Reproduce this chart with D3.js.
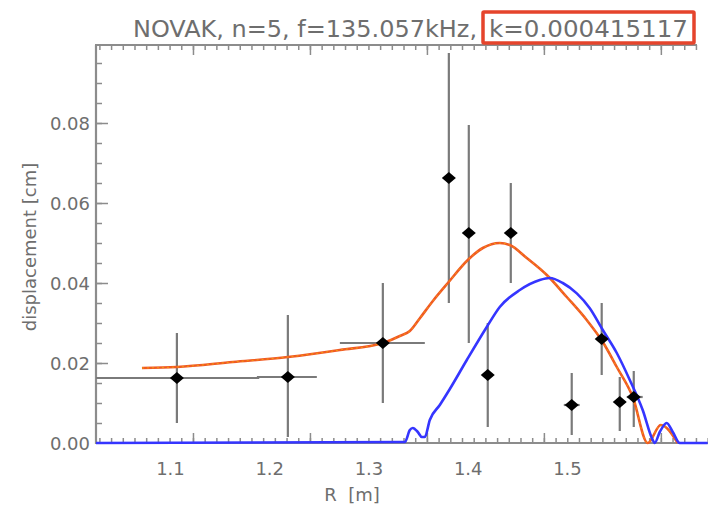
<!DOCTYPE html>
<html><head><meta charset="utf-8">
<script src="https://cdn.jsdelivr.net/npm/d3@7"></script>
<style>html,body{margin:0;padding:0;background:#fff}svg{display:block}</style>
</head><body>
<svg id="c" width="708" height="508"></svg>
<script>
// ---- data ----
const titleMain = "NOVAK, n=5, f=135.057kHz,";
const titleK = "k=0.000415117";
const xLabel = "R  [m]";
const yLabel = "displacement [cm]";
const xTickLabels = [1.1, 1.2, 1.3, 1.4, 1.5];
const yTickLabels = [0.00, 0.02, 0.04, 0.06, 0.08];

// orange model curve
const orangeR = [1.0718,1.1070,1.1634,1.2188,1.2712,1.3145,1.3316,1.3417,1.3518,1.3649,1.3800,1.4001,1.4152,1.4323,1.4424,1.4595,1.4797,1.4998,1.5199,1.5361,1.5502,1.5663,1.5814,1.5945,1.6116];
const orangeV = [0.01875,0.0190,0.02025,0.0215,0.02325,0.0250,0.02675,0.0280,0.0312,0.0355,0.0400,0.04575,0.04875,0.0500,0.0495,0.04625,0.0420,0.0365,0.03075,0.02525,0.0190,0.0115,0.0000,0.0045,0.0000];

// blue model curve
const blueR = [1.0255,1.3367,1.3417,1.3447,1.3497,1.3538,1.3568,1.3618,1.3719,1.3820,1.3991,1.4192,1.4323,1.4525,1.4726,1.4827,1.4958,1.5099,1.5230,1.5361,1.5502,1.5633,1.5763,1.5864,1.5884,1.5935,1.6005,1.6066,1.6136,1.6418];
const blueV = [0,0.00025,0.00325,0.00375,0.00275,0.0015,0.0015,0.00575,0.0095,0.0135,0.02075,0.0290,0.0340,0.03825,0.04075,0.04125,0.0400,0.0374,0.0337,0.02825,0.0225,0.01575,0.00825,0.00075,0,0.00275,0.0050,0.00275,0,0];

// measured points with error bars
const ptR    = [1.1070,1.2188,1.3145,1.3810,1.4011,1.4434,1.4202,1.5048,1.5350,1.5532,1.5673];
const ptV    = [0.01625,0.0165,0.0250,0.06625,0.0525,0.0525,0.0170,0.0095,0.0260,0.01025,0.0115];
const ptVlo  = [0.0050,0.0015,0.0100,0.0350,0.0250,0.0400,0.0040,0.0020,0.0170,0.0030,0.0040];
const ptVhi  = [0.0275,0.0320,0.0400,0.0975,0.0795,0.0650,0.0300,0.0175,0.0350,0.0165,0.0180];
const ptRlo  = [1.0230,1.1876,1.2712,1.3810,1.4011,1.4434,1.4202,1.4968,1.5350,1.5532,1.5602];
const ptRhi  = [1.1900,1.2480,1.3568,1.3810,1.4011,1.4434,1.4202,1.5128,1.5350,1.5532,1.5763];

// ---- drawing ----
const svg = d3.select("#c");
const L = 96, R = 708, T = 45, B = 443;
const x = d3.scaleLinear().domain([1.0255, 1.6421]).range([L, R]);
const y = d3.scaleLinear().domain([0, 0.0995]).range([B, T]);
const axisCol = "#8c8c8c", textCol = "#6e6e6e";
const font = "'DejaVu Sans', sans-serif";

svg.append("defs").append("clipPath").attr("id","clip")
  .append("rect").attr("x", L).attr("y", T).attr("width", R - L).attr("height", B - T + 2);

// x ticks (minor & major)
const xMajorStep = 0.11785, xMajor0 = 1.1232;
const xMinor = d3.range(-8, 50).map(i => xMajor0 + i * xMajorStep / 10).filter(v => x(v) > L + 2 && x(v) < R);
const xMajor = xMinor.filter(v => Math.abs(((v - xMajor0) / xMajorStep) - Math.round((v - xMajor0) / xMajorStep)) < 1e-6);
const topEnd = 697;

function styleAxis(g){
  g.select(".domain").remove();
  g.selectAll("line").attr("stroke", axisCol).attr("stroke-width", 1.5);
}
svg.append("g").attr("transform", `translate(0,${B})`)
  .call(d3.axisTop(x).tickValues(xMinor).tickSize(5).tickFormat("")).call(styleAxis);
svg.append("g").attr("transform", `translate(0,${B})`)
  .call(d3.axisTop(x).tickValues(xMajor).tickSize(10).tickFormat("")).call(styleAxis);
svg.append("g").attr("transform", `translate(0,${T})`)
  .call(d3.axisBottom(x).tickValues(xMinor.filter(v => x(v) < topEnd)).tickSize(5).tickFormat("")).call(styleAxis);
svg.append("g").attr("transform", `translate(0,${T})`)
  .call(d3.axisBottom(x).tickValues(xMajor.filter(v => x(v) < topEnd)).tickSize(10).tickFormat("")).call(styleAxis);

// y ticks
const yMinor = d3.range(0, 20).map(i => i * 0.005).filter(v => v > 0 && v < 0.0995);
svg.append("g").attr("transform", `translate(${L},0)`)
  .call(d3.axisRight(y).tickValues(yMinor).tickSize(6).tickFormat("")).call(styleAxis);
svg.append("g").attr("transform", `translate(${L},0)`)
  .call(d3.axisRight(y).tickValues(yTickLabels.filter(v => v > 0)).tickSize(12).tickFormat("")).call(styleAxis);

// axis lines
svg.append("line").attr("x1", L).attr("x2", L).attr("y1", T).attr("y2", B + 1)
  .attr("stroke", axisCol).attr("stroke-width", 2.2);
svg.append("line").attr("x1", L - 1).attr("x2", R).attr("y1", B).attr("y2", B)
  .attr("stroke", axisCol).attr("stroke-width", 2.2);
svg.append("line").attr("x1", L - 1).attr("x2", topEnd).attr("y1", T).attr("y2", T)
  .attr("stroke", axisCol).attr("stroke-width", 2.2);

// tick labels
const xl = svg.append("g").attr("transform", `translate(0,${B + 32})`)
  .call(d3.axisBottom(x).tickValues(xTickLabels).tickSize(0).tickFormat(d3.format(".1f")));
xl.select(".domain").remove();
xl.selectAll("text").attr("fill", textCol).attr("font-family", font).attr("font-size", 18).attr("dy", 0).attr("y", 0);

const yl = svg.append("g").attr("transform", `translate(${L - 6},0)`)
  .call(d3.axisLeft(y).tickValues(yTickLabels).tickSize(0).tickFormat(d3.format(".2f")));
yl.select(".domain").remove();
yl.selectAll("text").attr("fill", textCol).attr("font-family", font).attr("font-size", 18)
  .attr("x", 0).attr("dy", "0.36em");

// axis titles
svg.append("text").attr("x", 352).attr("y", 501).attr("text-anchor", "middle")
  .attr("fill", textCol).attr("font-family", font).attr("font-size", 18)
  .attr("xml:space", "preserve").style("white-space", "pre").text(xLabel);
svg.append("text").attr("transform", `translate(36,247) rotate(-90)`).attr("text-anchor", "middle")
  .attr("fill", textCol).attr("font-family", font).attr("font-size", 18).text(yLabel);

// title
svg.append("text").attr("x", 133).attr("y", 37).attr("fill", textCol)
  .attr("font-family", font).attr("font-size", 23)
  .attr("textLength", 344).attr("lengthAdjust", "spacingAndGlyphs").text(titleMain);
svg.append("text").attr("x", 489).attr("y", 37).attr("fill", textCol)
  .attr("font-family", font).attr("font-size", 23)
  .attr("textLength", 199).attr("lengthAdjust", "spacingAndGlyphs").text(titleK);
svg.append("rect").attr("x", 483).attr("y", 12).attr("width", 211).attr("height", 31)
  .attr("fill", "none").attr("stroke", "#e5442c").attr("stroke-width", 3.5).attr("rx", 1);

// plot content
const plot = svg.append("g").attr("clip-path", "url(#clip)");
const idx = d3.range(ptR.length);

// error bars
plot.selectAll(".ev").data(idx).join("line")
  .attr("x1", i => x(ptR[i])).attr("x2", i => x(ptR[i]))
  .attr("y1", i => y(ptVlo[i])).attr("y2", i => y(ptVhi[i]))
  .attr("stroke", "#7a7a7a").attr("stroke-width", 2.2);
plot.selectAll(".eh").data(idx.filter(i => ptRhi[i] > ptRlo[i])).join("line")
  .attr("x1", i => x(ptRlo[i])).attr("x2", i => x(ptRhi[i]))
  .attr("y1", i => y(ptV[i])).attr("y2", i => y(ptV[i]))
  .attr("stroke", "#7a7a7a").attr("stroke-width", 2.2);

// curves
const line = d3.line().x(d => x(d[0])).y(d => y(d[1])).curve(d3.curveMonotoneX);
const orangeData = orangeR.map((r, i) => [r, orangeV[i]]);
const blueData = blueR.map((r, i) => [r, blueV[i]]);
plot.append("path").attr("d", line(orangeData)).attr("fill", "none")
  .attr("stroke", "#f05a24").attr("stroke-width", 2.6).attr("stroke-linejoin", "round");
plot.append("path").attr("d", line(orangeData)).attr("fill", "none")
  .attr("stroke", "#f7b500").attr("stroke-width", 0.9).attr("stroke-dasharray", "2,3").attr("opacity", 0.8);
plot.append("path").attr("d", line(blueData)).attr("fill", "none")
  .attr("stroke", "#3535ff").attr("stroke-width", 2.6).attr("stroke-linejoin", "round");

// diamonds
const dw = 7, dh = 6;
plot.selectAll(".pt").data(idx).join("path")
  .attr("d", i => {
    const cx = x(ptR[i]), cy = y(ptV[i]);
    return `M${cx - dw},${cy}L${cx},${cy - dh}L${cx + dw},${cy}L${cx},${cy + dh}Z`;
  })
  .attr("fill", "#000");
</script>
</body></html>
